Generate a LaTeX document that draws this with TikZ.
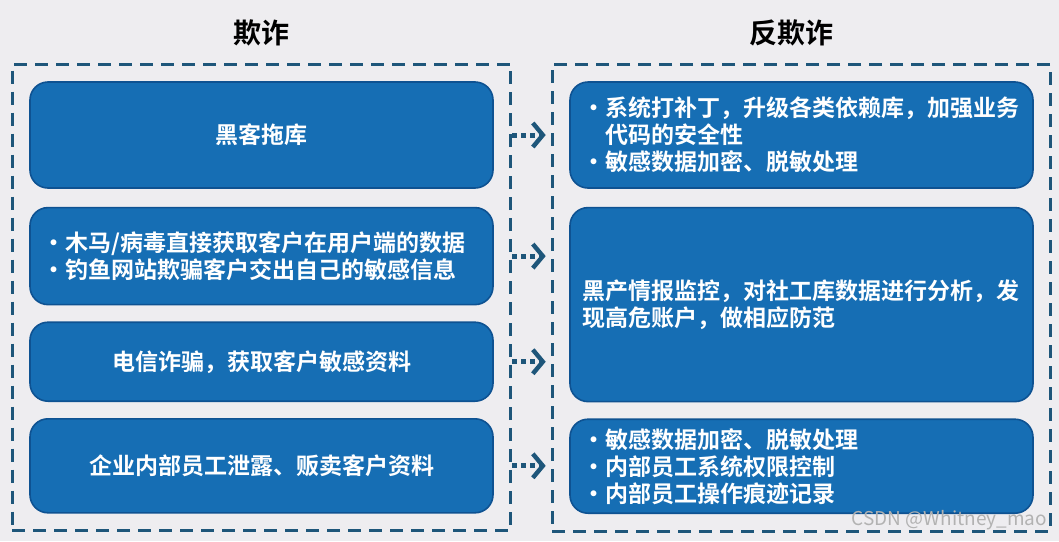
\documentclass[tikz,border=0pt]{standalone}
\usepackage{fontspec}
\setmainfont{Noto Sans CJK SC}[BoldFont={Noto Sans CJK SC Bold}]
\usetikzlibrary{arrows.meta,positioning,fit,backgrounds}

\definecolor{bgGray}{RGB}{238,237,240}
\definecolor{boxBlue}{RGB}{22,110,180}
\definecolor{boxEdge}{RGB}{14,82,146}
\definecolor{frameTeal}{RGB}{30,86,122}

\newcommand{\bul}{\makebox[11.5pt][l]{\textbullet}}
\newcommand{\bulgap}{\hspace*{11.5pt}}

\begin{document}
\begin{tikzpicture}[
    x=0.5pt, y=-0.5pt,
    node distance=8pt,
    font=\fontsize{11.5}{13.5}\selectfont\bfseries,
    card/.style={rectangle, rounded corners=9pt, draw=boxEdge, line width=0.8pt, fill=boxBlue, text=white, minimum width=231.5pt, align=center},
    listcard/.style={card, text width=219pt, inner xsep=6.25pt, align=left},
    zone/.style={rectangle, draw=frameTeal, line width=1.5pt, dash pattern=on 6.5pt off 4pt, inner sep=8.5pt},
    heading/.style={font=\fontsize{14}{16}\selectfont\bfseries},
    link/.style={draw=frameTeal, line width=2.5pt, dash pattern=on 2.5pt off 2pt, -{Straight Barb[length=5pt,width=12pt,line width=2.2pt]}, shorten >=2.5pt}
]
\fill[bgGray] (0,0) rectangle (1059,541);
\useasboundingbox (0,0) rectangle (1059,541);

% left column
\node[card, minimum height=53pt] (hack) at (261.5,135) {黑客拖库};
\node[listcard, minimum height=48.5pt, below=9pt of hack] (trojan) {\bul 木马/病毒直接获取客户在用户端的数据\\\bul 钓鱼网站欺骗客户交出自己的敏感信息};
\node[card, minimum height=39.5pt, below=of trojan] (phone) {电信诈骗，获取客户敏感资料};
\node[card, minimum height=47pt, below=of phone] (insider) {企业内部员工泄露、贩卖客户资料};

% right column
\node[listcard, minimum height=53pt] (patch) at (801.5,135) {\bul 系统打补丁，升级各类依赖库，加强业务\\\bulgap 代码的安全性\\\bul 敏感数据加密、脱敏处理};
\node[listcard, minimum height=97pt, below=9pt of patch] (intel) {黑产情报监控，对社工库数据进行分析，发\\现高危账户，做相应防范};
\node[listcard, minimum height=47pt, below=of intel] (access) {\bul 敏感数据加密、脱敏处理\\\bul 内部员工系统权限控制\\\bul 内部员工操作痕迹记录};

% dashed frames and headings
\node[zone, fit=(hack)(insider)] (fraud) {};
\node[zone, fit=(patch)(access)] (counter) {};
\node[heading, above=5pt of fraud] (fraudtitle) {欺诈};
\node[heading, above=5pt of counter, xshift=-5pt] (countertitle) {反欺诈};

% links
\foreach \src in {hack,trojan,phone,insider}
    \draw[link] (fraud.east |- \src.east) -- (counter.west |- \src.east);

\node[anchor=south east, text=gray!60, font=\normalfont\fontsize{9.5}{10}\selectfont] (mark) at (1054,537) {CSDN @Whitney\_mao};
\end{tikzpicture}
\end{document}
